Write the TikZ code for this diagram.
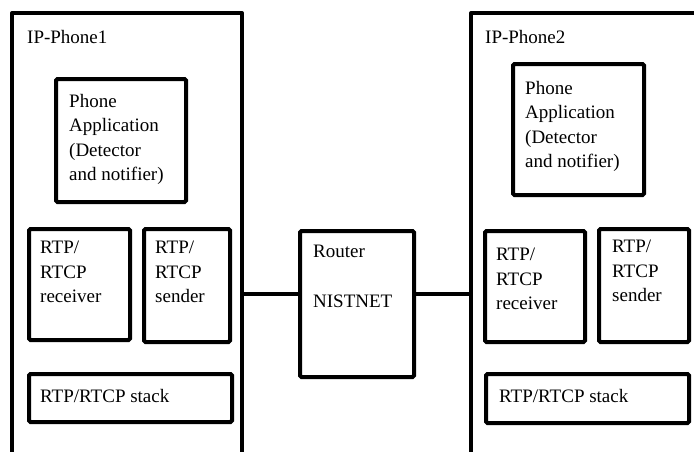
\documentclass[tikz,border=0pt]{standalone}
\usepackage{fontspec}
\setmainfont{Liberation Serif}
\begin{document}
\begin{tikzpicture}[x=1pt,y=-1pt,
  box/.style={draw, line width=4pt, rounded corners=1.5pt, anchor=north west, inner sep=0pt},
  outer/.style={line width=4pt, line join=round},
  txt/.style={anchor=north west, inner sep=0pt, align=left, font=\fontsize{19}{24.5}\selectfont},
  link/.style={line width=4pt}]
\useasboundingbox (0,0) rectangle (694,451);
% phone 1
\draw[outer] (12,460) -- (12,13) -- (242,13) -- (242,460);
\node[txt] (t1) at (27,30) {IP-Phone1};
\node[box, minimum width=130pt, minimum height=123pt] (app1) at (54,77) {};
\node[txt] (app1t) at (69,94) {Phone\\Application\\(Detector\\and notifier)};
\node[box, minimum width=101pt, minimum height=111pt] (rcv1) at (27,227) {};
\node[txt] (rcv1t) at (40,241) {RTP/\\RTCP\\receiver};
\node[box, minimum width=86pt, minimum height=113pt] (snd1) at (142,227) {};
\node[txt] (snd1t) at (155,241) {RTP/\\RTCP\\sender};
\node[box, minimum width=203pt, minimum height=48pt] (stk1) at (27,372) {};
\node[txt] (stk1t) at (40,389) {RTP/RTCP stack};
% router
\node[box, minimum width=114pt, minimum height=146pt] (router) at (298,229) {};
\node[txt] (routert) at (313,245) {Router\\[25.5pt]NISTNET};
% phone 2
\draw[outer] (471,460) -- (471,13) -- (700,13);
\node[txt] (t2) at (485,30) {IP-Phone2};
\node[box, minimum width=131pt, minimum height=131pt] (app2) at (511,62) {};
\node[txt] (app2t) at (525,81) {Phone\\Application\\(Detector\\and notifier)};
\node[box, minimum width=100pt, minimum height=111pt] (rcv2) at (483,229) {};
\node[txt] (rcv2t) at (496,248) {RTP/\\RTCP\\receiver};
\node[box, minimum width=90pt, minimum height=113pt] (snd2) at (597,227) {};
\node[txt] (snd2t) at (612,240) {RTP/\\RTCP\\sender};
\node[box, minimum width=203pt, minimum height=49pt] (stk2) at (484,372) {};
\node[txt] (stk2t) at (499,389) {RTP/RTCP stack};
% links
\coordinate (p1r) at (242,294);
\coordinate (p2l) at (471,294);
\draw[link] (p1r) -- (router.west |- p1r);
\draw[link] (router.east |- p2l) -- (p2l);
\end{tikzpicture}
\end{document}
